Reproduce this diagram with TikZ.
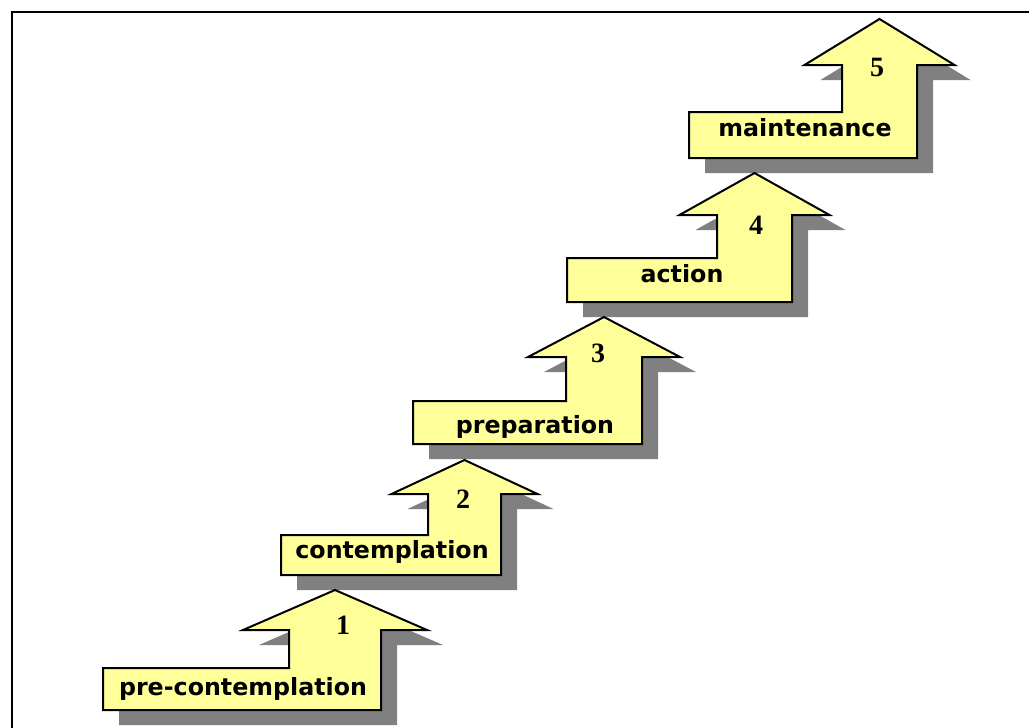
\documentclass[tikz,border=0pt]{standalone}
\usepackage{fontspec}
\newfontfamily\stagefont{DejaVu Sans}
\newfontfamily\numfont{Liberation Serif}
\definecolor{stepyellow}{HTML}{FFFF99}
\definecolor{stepshadow}{HTML}{808080}

\begin{document}
\begin{tikzpicture}[x=0.75pt,y=-0.75pt,
    stairarrow/.style={draw=black,line width=1.5pt,fill=stepyellow,line join=miter},
    stairshadow/.style={fill=stepshadow,draw=none},
    stagelabel/.style={anchor=base,inner sep=0pt,font=\stagefont\bfseries\fontsize{17.8}{20}\selectfont},
    stagenum/.style={anchor=base,inner sep=0pt,font=\numfont\bfseries\fontsize{21}{22}\selectfont}]
    \useasboundingbox (0,0) rectangle (1029,728);
    \clip (0,0) rectangle (1029,728);
    \draw [line width=1.8pt] (12,12) rectangle (1060,760);

    % shadows
    \foreach \bl/\bt/\bb/\sl/\sr/\hb/\ty in {103/668/710/289/381/630/590,
        281/535/575/428/501/494/460, 413/401/444/566/642/357/317,
        567/258/302/717/792/215/173, 689/112/158/842/917/65/19} {
        \fill [stairshadow,shift={(16,15)}] (\bl,\bb) -- (\bl,\bt) -- (\sl,\bt) -- (\sl,\hb)
            -- ({\sl-(\sr-\sl)/2},\hb) -- ({(\sl+\sr)/2},\ty) -- ({\sr+(\sr-\sl)/2},\hb)
            -- (\sr,\hb) -- (\sr,\bb) -- cycle;
    }

    % arrows
    \foreach \bl/\bt/\bb/\sl/\sr/\hb/\ty in {103/668/710/289/381/630/590,
        281/535/575/428/501/494/460, 413/401/444/566/642/357/317,
        567/258/302/717/792/215/173, 689/112/158/842/917/65/19} {
        \draw [stairarrow] (\bl,\bb) -- (\bl,\bt) -- (\sl,\bt) -- (\sl,\hb)
            -- ({\sl-(\sr-\sl)/2},\hb) -- ({(\sl+\sr)/2},\ty) -- ({\sr+(\sr-\sl)/2},\hb)
            -- (\sr,\hb) -- (\sr,\bb) -- cycle;
    }

    % stage names and numbers
    \foreach \i/\lx/\ly/\txt/\nx/\ny in {1/243/695/pre-contemplation/343/634,
        2/392/558/contemplation/463/508, 3/535/433/preparation/598/362,
        4/682/282/action/756/234, 5/805/136/maintenance/877/76} {
        \node [stagelabel] (stage\i) at (\lx,\ly) {\txt};
        \node [stagenum] (num\i) at (\nx,\ny) {\i};
    }
\end{tikzpicture}
\end{document}
